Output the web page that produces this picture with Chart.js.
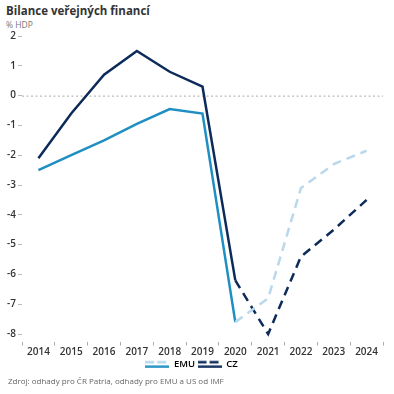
<!DOCTYPE html>
<html>
<head>
<meta charset="utf-8">
<script src="https://cdn.jsdelivr.net/npm/chart.js@4"></script>
<style>
  body { margin: 0; background: #fff; font-family: "Open Sans", sans-serif; }
  #wrap { position: relative; width: 394px; height: 394px; overflow: hidden; }
  #title { position: absolute; left: 6px; top: 3px; font-size: 11.5px; font-weight: 700; color: #333; }
  #unit { position: absolute; left: 6px; top: 19px; font-size: 8.5px; color: #777; }
  #src { position: absolute; left: 8px; top: 375px; font-size: 8px; color: #666; }
  #box { position: absolute; left: 0; top: 28px; width: 394px; height: 351px; }
</style>
</head>
<body>
<div id="wrap">
  <div id="title">Bilance veřejných financí</div>
  <div id="unit">% HDP</div>
  <div id="box"><canvas id="chart"></canvas></div>
  <div id="src">Zdroj: odhady pro ČR Patria, odhady pro EMU a US od IMF</div>
</div>
<script>
const years = ["2014", "2015", "2016", "2017", "2018", "2019", "2020", "2021", "2022", "2023", "2024"];
const emu = [-2.5, -2.0, -1.5, -0.95, -0.45, -0.6, -7.6, -6.8, -3.1, -2.3, -1.85];
const cz = [-2.1, -0.6, 0.7, 1.5, 0.8, 0.3, -6.2, -8.0, -5.4, -4.5, -3.5];
const yTicks = [2, 1, 0, -1, -2, -3, -4, -5, -6, -7, -8];
const forecastFrom = 6; // 2020 -> dalsi roky jsou odhad

const emuColor = "#1f8fc3";
const emuLight = "#b9d8eb";
const czColor = "#0c2a5a";

// ikonka do legendy: prerusovana a plna cara
function legendIcon(solid, dashed) {
  const c = document.createElement("canvas");
  c.width = 24; c.height = 8;
  const g = c.getContext("2d");
  g.lineWidth = 2.5;
  g.strokeStyle = dashed;
  g.setLineDash([9, 3]);
  g.beginPath(); g.moveTo(0, 2); g.lineTo(24, 2); g.stroke();
  g.strokeStyle = solid;
  g.setLineDash([]);
  g.beginPath(); g.moveTo(0, 6.5); g.lineTo(24, 6.5); g.stroke();
  return c;
}

const zeroLine = {
  id: "zeroLine",
  beforeDatasetsDraw(chart) {
    const y = chart.scales.y.getPixelForValue(0);
    const { left, right } = chart.chartArea;
    const ctx = chart.ctx;
    ctx.save();
    ctx.strokeStyle = "#aaa";
    ctx.lineWidth = 1;
    ctx.setLineDash([2, 2.5]);
    ctx.beginPath(); ctx.moveTo(left, y + 0.5); ctx.lineTo(right, y + 0.5); ctx.stroke();
    ctx.restore();
  }
};

const isForecast = (ctx) => ctx.p0DataIndex >= forecastFrom;

new Chart(document.getElementById("chart"), {
  type: "line",
  data: {
    labels: years,
    datasets: [
      {
        label: "EMU",
        data: emu,
        borderColor: emuColor,
        borderWidth: 2.5,
        pointRadius: 0,
        tension: 0,
        segment: {
          borderColor: (ctx) => isForecast(ctx) ? emuLight : undefined,
          borderDash: (ctx) => isForecast(ctx) ? [9, 6] : undefined
        }
      },
      {
        label: "CZ",
        data: cz,
        borderColor: czColor,
        borderWidth: 2.5,
        pointRadius: 0,
        tension: 0,
        segment: {
          borderDash: (ctx) => isForecast(ctx) ? [9, 6] : undefined
        }
      }
    ]
  },
  options: {
    responsive: true,
    maintainAspectRatio: false,
    animation: false,
    layout: { padding: { top: 8, right: 11, left: 0, bottom: 0 } },
    plugins: {
      tooltip: { enabled: false },
      legend: {
        position: "bottom",
        labels: {
          usePointStyle: true,
          pointStyleWidth: 24,
          boxHeight: 8,
          padding: 0,
          color: "#333",
          font: { family: "Open Sans", size: 9.5, weight: "600" },
          generateLabels: () => [
            { text: "EMU ", pointStyle: legendIcon(emuColor, emuLight), fillStyle: emuColor, strokeStyle: emuColor, lineWidth: 0, datasetIndex: 0 },
            { text: "CZ", pointStyle: legendIcon(czColor, czColor), fillStyle: czColor, strokeStyle: czColor, lineWidth: 0, datasetIndex: 1 }
          ]
        }
      }
    },
    scales: {
      x: {
        offset: true,
        grid: { offset: true, drawOnChartArea: false, tickLength: 4, color: "#aaa" },
        border: { display: false },
        ticks: { color: "#333", padding: 1, maxRotation: 0, font: { family: "Open Sans", size: 10, weight: "600" } }
      },
      y: {
        min: -8.25,
        max: 2,
        afterFit: (s) => { s.width = 22; },
        afterBuildTicks: (s) => { s.ticks = yTicks.map((v) => ({ value: v })); },
        grid: { drawOnChartArea: false, tickLength: 4, color: "#bbb" },
        border: { display: false },
        ticks: { color: "#333", padding: 2, font: { family: "Open Sans", size: 10, weight: "600" } }
      }
    }
  },
  plugins: [zeroLine]
});
</script>
</body>
</html>
